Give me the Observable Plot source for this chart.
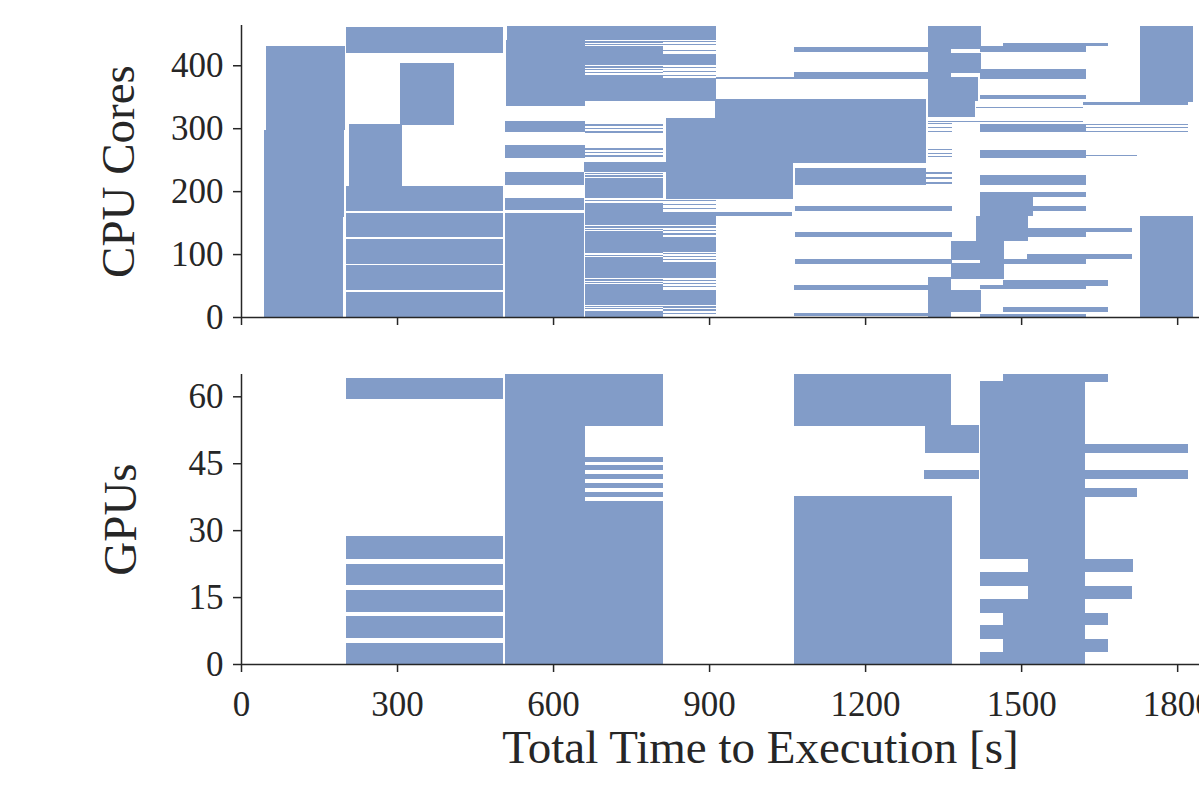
<!DOCTYPE html>
<html><head><meta charset="utf-8">
<script src="https://cdn.jsdelivr.net/npm/d3@7"></script>
<script src="https://cdn.jsdelivr.net/npm/@observablehq/plot@0.6"></script>
<style>
html,body{margin:0;padding:0;overflow:hidden;background:#fff;}
#chart svg{display:block;}
</style></head><body><div id="chart"></div>
<script>
// Each task: [start time (s), end time (s), lowest resource index, highest resource index]
const cpuTasks = [
  [44,197,0,159],[45,198,159,297],[48,200,297,430],
  [202,504,420,461],[305,410,305,403],[208,310,208,306],
  [202,504,0,40.5],[202,504,42.5,83],[202,504,85,124.5],[202,504,126.5,166],[202,504,168,208],
  [511,913,440,463],[509,661,336,440],[508,661,294,311],[508,661,253,273],[508,660,210,231],[508,660,170,189],[508,660,0,166],
  [661,811,436,438],[661,811,432,434],[661,811,400,430],[661,811,396,398.5],[661,811,392,394],[661,811,387,389],[661,811,344,384],
  [661,811,304,306],[661,811,298,301],[661,811,293,296],[661,811,265,268],[661,811,260,262],[661,811,255,257],
  [660,820,231,246],[661,811,227,229],[661,811,223,225],[661,811,189,221],[661,811,184,186],[661,811,146,181],
  [661,811,142,144],[661,811,138,140],[661,811,102,136],[661,811,97,99],[661,811,62,95],[661,811,58,60],[661,811,54,56],
  [661,811,19,52],[661,811,15.5,17],[661,811,12,14],[661,811,0,10],
  [811,913,437,438.5],[811,913,432,434],[811,913,423,425],[811,913,400,418],[811,913,396,398],[811,913,389,391],[811,913,383,385],
  [811,913,344,380],[818,913,244,316],[811,913,184,186],[811,913,178,180],[811,913,172,174],[811,913,146,167],
  [811,913,142,144],[811,913,137,139],[811,913,131,133],[811,913,104,127],[811,913,100,102],[811,913,95,97],[811,913,90,92],
  [811,913,62,87],[811,913,57,59],[811,913,52,54],[811,913,47,49],[811,913,19,43],[811,913,15,17],[811,913,10,12],[811,913,4,6],
  [913,1066,378,381],[818,1062,188,244],[911,1318,244,346],[811,1059,160,167],
  [1063,1321,421,429],[1063,1321,378,389],[1065,1318,210,233],[1065,1318,234,236],[1065,1367,168,176],[1065,1367,127,135],
  [1065,1367,84,92],[1063,1321,43,51],[1063,1321,1,7],
  [1321,1367,306,308],[1321,1367,300,302],[1321,1367,294,296],[1321,1367,265,267],[1321,1367,259,261],[1321,1367,254,256],
  [1318,1367,228,230],[1318,1367,220,223],[1318,1367,212,215],[1321,1619,310,312],
  [1321,1423,426,463],[1321,1365,419,426],[1321,1423,387,420],[1321,1365,381,387],[1321,1418,344,381],[1321,1412,318,344],
  [1321,1365,0,64],[1365,1423,8,43],[1365,1467,60,86],[1365,1467,90,121],[1413,1513,120,160],[1421,1523,160,190],
  [1421,1625,421,430],[1421,1625,378,394],[1421,1625,346,352],[1421,1625,294,306],[1421,1625,253,266],[1421,1625,210,225],
  [1421,1625,190,198],[1421,1625,168,176],[1421,1625,127,141],[1421,1625,85,92],[1421,1625,44,51],[1421,1625,0,5],
  [1413,1619,332,334],
  [1465,1667,430,435],[1465,1667,50,59],[1465,1667,8,16],
  [1512,1713,92,100],[1512,1713,135,141],[1623,1723,256,258],
  [1619,1821,337,342],[1619,1821,305,307],[1619,1821,300,302],[1619,1821,294,296],
  [1729,1831,342,462],[1729,1831,0,160]
];
const gpuTasks = [
  [202,504,59.3,64.2],[202,504,0,4.8],[202,504,5.8,10.7],[202,504,11.7,16.6],[202,504,17.6,22.5],[202,504,23.6,28.6],
  [508,661,0,65],[661,811,53.3,65],[661,811,45.3,46.3],[661,811,43.4,44.5],[661,811,41.4,42.5],[661,811,39.5,40.5],
  [661,811,37.5,38.5],[661,811,0,36.6],
  [1063,1365,53.3,65],[1063,1367,0,37.6],[1315,1419,47.3,53.5],[1313,1419,41.4,43.4],
  [1421,1623,23.6,63.4],[1465,1667,63.3,65],[1513,1715,20.7,23.5],[1421,1623,17.5,20.7],[1513,1713,14.5,17.5],
  [1421,1623,11.5,14.5],[1465,1667,8.7,11.5],[1421,1623,5.6,8.7],[1465,1667,2.75,5.6],[1421,1623,0,2.75],
  [1623,1821,47.3,49.4],[1623,1821,41.4,43.4],[1623,1723,37.4,39.4]
];
const xTicks = [0,300,600,900,1200,1500,1800];
const cpuTicks = [0,100,200,300,400];
const gpuTicks = [0,15,30,45,60];
const xDomain = [0,1842];
const cpuDomain = [0,464];
const gpuDomain = [0,65];
const cpuLabel = "CPU Cores";
const gpuLabel = "GPUs";
const xLabel = "Total Time to Execution [s]";

const FILL = "#829cc8";
const INK = "#262626";
const FONT = "'Liberation Serif', 'DejaVu Serif', serif";
const TICK_FS = 35, LABEL_FS = 47;

function rectMark(tasks){
  return Plot.rect(tasks, {x1: d=>d[0], x2: d=>d[1], y1: d=>d[2], y2: d=>d[3], fill: FILL, shapeRendering: "crispEdges"});
}

const cpu = Plot.plot({
  width: 1199, height: 345,
  marginLeft: 241, marginRight: 0, marginTop: 25, marginBottom: 28,
  x: {domain: xDomain},
  y: {domain: cpuDomain},
  style: {fontFamily: FONT, color: INK, background: "white", overflow: "visible"},
  marks: [
    rectMark(cpuTasks),
    Plot.axisY({ticks: cpuTicks, tickSize: 8, tickPadding: 10, label: null, fontSize: TICK_FS, strokeWidth: 1.5, stroke: INK, tickFormat: d=>String(d)}),
    Plot.axisX({ticks: xTicks, tickSize: 8, label: null, tickFormat: () => "", strokeWidth: 1.5, stroke: INK}),
    Plot.ruleX([0], {stroke: INK, strokeWidth: 1.5}),
    Plot.ruleY([0], {stroke: INK, strokeWidth: 1.5}),
    Plot.text([cpuLabel], {frameAnchor: "left", dx: -123, rotate: -90, textAnchor: "middle", lineAnchor: "middle", fontSize: LABEL_FS, fill: INK})
  ]
});

const gpu = Plot.plot({
  width: 1199, height: 447,
  marginLeft: 241, marginRight: 0, marginTop: 29, marginBottom: 128,
  x: {domain: xDomain},
  y: {domain: gpuDomain},
  style: {fontFamily: FONT, color: INK, background: "white", overflow: "visible"},
  marks: [
    rectMark(gpuTasks),
    Plot.axisY({ticks: gpuTicks, tickSize: 8, tickPadding: 10, label: null, fontSize: TICK_FS, strokeWidth: 1.5, stroke: INK, tickFormat: d=>String(d)}),
    Plot.axisX({ticks: xTicks, tickSize: 8, tickPadding: 19, label: null, fontSize: TICK_FS, strokeWidth: 1.5, stroke: INK, tickFormat: d=>String(d)}),
    Plot.ruleX([0], {stroke: INK, strokeWidth: 1.5}),
    Plot.ruleY([0], {stroke: INK, strokeWidth: 1.5}),
    Plot.text([gpuLabel], {frameAnchor: "left", dx: -121, rotate: -90, textAnchor: "middle", lineAnchor: "middle", fontSize: LABEL_FS, fill: INK}),
    Plot.text([xLabel], {frameAnchor: "bottom", dx: 40, dy: 83, textAnchor: "middle", lineAnchor: "middle", fontSize: LABEL_FS, fill: INK})
  ]
});

const el = document.getElementById("chart");
el.appendChild(cpu);
el.appendChild(gpu);
</script></body></html>
